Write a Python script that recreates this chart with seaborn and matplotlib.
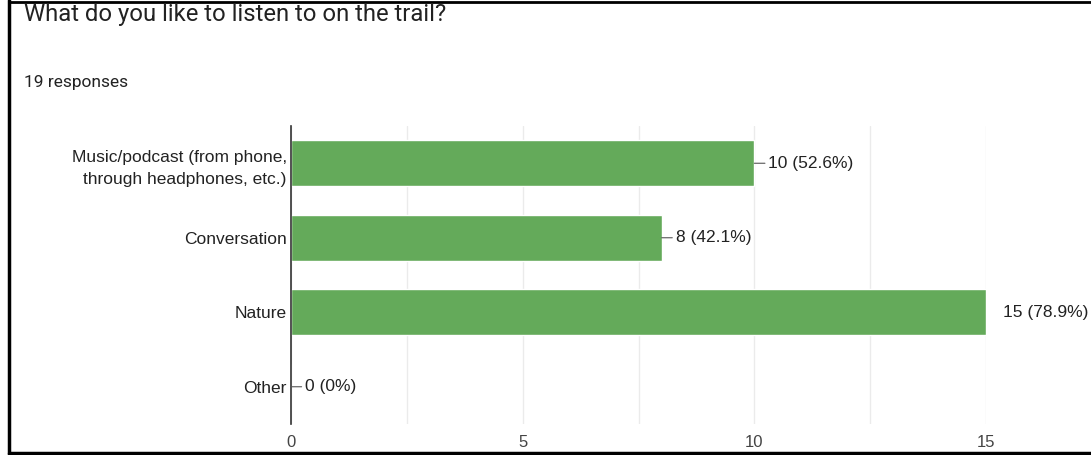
import matplotlib
matplotlib.use("Agg")
import matplotlib.pyplot as plt
import matplotlib.lines as mlines
import seaborn as sns
import pandas as pd

categories = ["Music/podcast (from phone,\nthrough headphones, etc.)", "Conversation", "Nature", "Other"]
counts = [10, 8, 15, 0]
labels = ["10 (52.6%)", "8 (42.1%)", "15 (78.9%)", "0 (0%)"]

df = pd.DataFrame({"cat": categories, "n": counts})

sns.set_style("white")
plt.rcParams['font.family'] = ['Liberation Sans', 'DejaVu Sans']

fig = plt.figure(figsize=(10.91, 4.55), dpi=100)
ax = fig.add_axes([291/1091, 31/455, 695/1091, 298/455])

sns.barplot(data=df, x="n", y="cat", color="#64aa5a", saturation=1, width=0.62, ax=ax)

ax.set_xlim(0, 15)
ax.set_xticks([0, 5, 10, 15])
ax.set_xticks([2.5, 7.5, 12.5], minor=True)
ax.grid(axis="x", which="both", color="#ebebeb", lw=1)
ax.set_axisbelow(True)
ax.set_xlabel("")
ax.set_ylabel("")
for s in ["top", "right", "bottom"]:
    ax.spines[s].set_visible(False)
ax.spines["left"].set_color("#333333")
ax.spines["left"].set_linewidth(1.2)
ax.tick_params(axis="x", length=0, labelsize=12, colors="#444444", pad=8)
ax.tick_params(axis="y", length=0, labelsize=12.5, colors="#222222", pad=3)
for t in ax.get_yticklabels():
    t.set_linespacing(1.6)

# value labels with short connector lines
for i, (v, lab) in enumerate(zip(counts, labels)):
    if v >= 15:
        ax.annotate(lab, xy=(v, i), xytext=(12, 0), textcoords="offset points",
                    va="center", ha="left", fontsize=12.5, color="#222222", annotation_clip=False)
    else:
        ax.annotate(lab, xy=(v, i), xytext=(10, 0), textcoords="offset points",
                    va="center", ha="left", fontsize=12.5, color="#222222",
                    arrowprops=dict(arrowstyle="-", color="#555555", lw=0.8, shrinkA=0, shrinkB=0))

fig.text(24/1091, 1 - 15/455, "What do you like to listen to on the trail?", fontsize=17.2,
         color="#222222", va="center", ha="left", family=["Roboto", "DejaVu Sans"])
fig.text(24/1091, 1 - 82/455, "19 responses", fontsize=12.5, color="#222222",
         va="center", ha="left", family=["Roboto", "DejaVu Sans"])

# screenshot frame
fig.add_artist(mlines.Line2D([9/1091, 9/1091], [0, 1], transform=fig.transFigure, color="black", lw=2.5))
fig.add_artist(mlines.Line2D([9/1091, 1], [1 - 453/455, 1 - 453/455], transform=fig.transFigure, color="black", lw=2.5))
fig.add_artist(mlines.Line2D([9/1091, 1], [1 - 2/455, 1 - 2/455], transform=fig.transFigure, color="black", lw=2))

fig.savefig("out.png", dpi=100)
